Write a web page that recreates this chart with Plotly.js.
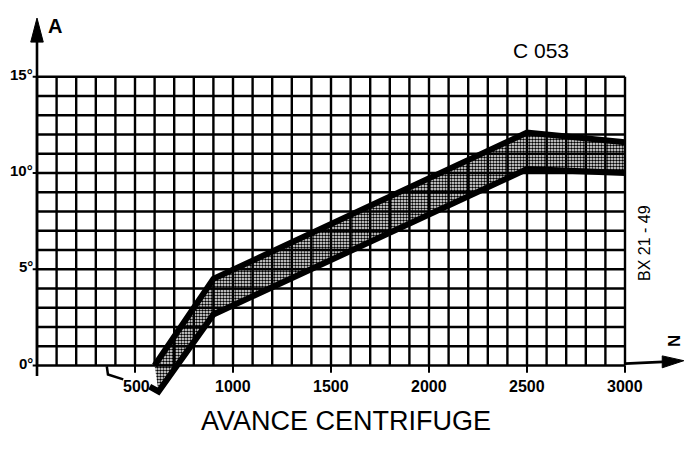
<!DOCTYPE html>
<html>
<head>
<meta charset="utf-8">
<script src="https://cdn.plot.ly/plotly-3.0.1.min.js"></script>
<style>html,body{margin:0;padding:0;background:#fff;}#chart{width:684px;height:458px;}</style>
</head>
<body>
<div id="chart"></div>
<script>
// ---- data ----
const rpmUpper = [600, 900, 2500, 3000];
const advUpper = [0, 4.5, 12.1, 11.6];
const rpmLower = [575, 620, 900, 2500, 3000];
const advLower = [-1.1, -1.35, 2.65, 10.2, 10.0];
const xTickVals = [500, 1000, 1500, 2000, 2500, 3000];
const xTickText = ['500', '1000', '1500', '2000', '2500', '3000'];
const yTickVals = [0, 5, 10, 15];
const yTickText = ['0°', '5°', '10°', '15°'];
const titleText = 'AVANCE CENTRIFUGE';
const codeText = 'C 053';
const refText = 'BX 21 - 49';

// ---- layout constants ----
const W = 684, H = 458;
const X0 = 37, PXR = 0.196;        // px of 0 rpm, px per rpm
const Y0 = 365.5, PXD = 19.25;     // px of 0 deg, px per deg
const xr = [-X0 / PXR, (W - X0) / PXR];
const yr = [-(H - Y0) / PXD, Y0 / PXD];
const GX = 3000, GY = 15, SX = 100, SY = 1;
const sans = 'Liberation Sans, Arial, sans-serif';
const px = v => v / W, py = v => 1 - v / H;

const shapes = [];
const grid = {color: '#000', width: 2.4};
for (let v = 0; v <= GX; v += SX) shapes.push({type: 'line', layer: 'below', xref: 'x', yref: 'y', x0: v, x1: v, y0: 0, y1: GY, line: grid});
for (let v = 0; v <= GY; v += SY) shapes.push({type: 'line', layer: 'below', xref: 'x', yref: 'y', x0: 0, x1: GX, y0: v, y1: v, line: grid});
// x ticks below axis
xTickVals.forEach(v => shapes.push({type: 'line', xref: 'x', yref: 'y', x0: v, x1: v, y0: 0, y1: -0.38, line: {color: '#000', width: 2}}));
// y ticks left
yTickVals.forEach(v => shapes.push({type: 'line', xref: 'x', yref: 'y', x0: -22, x1: 0, y0: v, y1: v, line: {color: '#000', width: 2}}));
// y axis extension + arrow
shapes.push({type: 'line', xref: 'x', yref: 'y', x0: 0, x1: 0, y0: -0.55, y1: 17.2, line: {color: '#000', width: 2.6}});
shapes.push({type: 'path', xref: 'x', yref: 'y', path: 'M -32,16.8 L 32,16.8 L 0,18.05 Z', fillcolor: '#000', line: {color: '#000', width: 1}});
// x axis arrow
shapes.push({type: 'line', xref: 'x', yref: 'y', x0: GX, x1: 3220, y0: 0.1, y1: 0.2, line: {color: '#000', width: 2.6}});
shapes.push({type: 'path', xref: 'x', yref: 'y', path: 'M 3190,-0.12 L 3190,0.5 L 3300,0.25 Z', fillcolor: '#000', line: {color: '#000', width: 1}});
// leader for the 500 label
shapes.push({type: 'path', xref: 'x', yref: 'y', path: 'M 356,-0.04 L 362,-0.47 L 440,-0.72', line: {color: '#000', width: 2.5}});

const annotations = [];
xTickVals.forEach((v, i) => annotations.push({xref: 'x', yref: 'paper', x: v + (i === 0 ? 8 : 0), y: py(386), text: '<b>' + xTickText[i] + '</b>', showarrow: false, xanchor: 'center', yanchor: 'middle', font: {family: sans, size: 16, color: '#000'}}));
yTickVals.forEach((v, i) => annotations.push({xref: 'paper', yref: 'y', x: px(35), y: v + 0.12, text: '<b>' + yTickText[i] + '</b>', showarrow: false, xanchor: 'right', yanchor: 'middle', font: {family: sans, size: 15, color: '#000'}}));
annotations.push({xref: 'paper', yref: 'paper', x: px(55), y: py(26), text: '<b>A</b>', showarrow: false, xanchor: 'center', yanchor: 'middle', font: {family: sans, size: 20, color: '#000'}});
annotations.push({xref: 'paper', yref: 'paper', x: px(674), y: py(341), text: '<b>N</b>', textangle: -90, showarrow: false, xanchor: 'center', yanchor: 'middle', font: {family: sans, size: 17, color: '#000'}});
annotations.push({xref: 'paper', yref: 'paper', x: px(541), y: py(51), text: codeText, showarrow: false, xanchor: 'center', yanchor: 'middle', font: {family: sans, size: 21, color: '#000'}});
annotations.push({xref: 'paper', yref: 'paper', x: px(645), y: py(243), text: refText, textangle: -90, showarrow: false, xanchor: 'center', yanchor: 'middle', font: {family: sans, size: 16, color: '#000'}});
annotations.push({xref: 'paper', yref: 'paper', x: px(346), y: py(421), text: titleText, showarrow: false, xanchor: 'center', yanchor: 'middle', font: {family: sans, size: 27, color: '#000'}});

// band polygon built from the two curves
const bandX = rpmUpper.concat(rpmLower.slice(1).reverse());
const bandY = advUpper.concat(advLower.slice(1).reverse());

const traces = [
  {x: bandX, y: bandY, type: 'scatter', mode: 'lines', fill: 'toself', fillcolor: 'rgba(0,0,0,0)',
   fillpattern: {shape: '.', fgcolor: '#000', bgcolor: 'rgba(255,255,255,0)', size: 3, solidity: 0.55},
   line: {width: 0, color: 'rgba(0,0,0,0)'}, hoverinfo: 'skip'},
  {x: rpmUpper, y: advUpper, type: 'scatter', mode: 'lines', line: {color: '#000', width: 6}},
  {x: rpmLower, y: advLower, type: 'scatter', mode: 'lines', line: {color: '#000', width: 6}}
];

const layout = {
  width: W, height: H, margin: {l: 0, r: 0, t: 0, b: 0},
  paper_bgcolor: '#fff', plot_bgcolor: '#fff', showlegend: false,
  xaxis: {range: xr, visible: false, fixedrange: true},
  yaxis: {range: yr, visible: false, fixedrange: true},
  shapes: shapes, annotations: annotations
};
Plotly.newPlot('chart', traces, layout, {staticPlot: true, displayModeBar: false});
</script>
</body>
</html>
